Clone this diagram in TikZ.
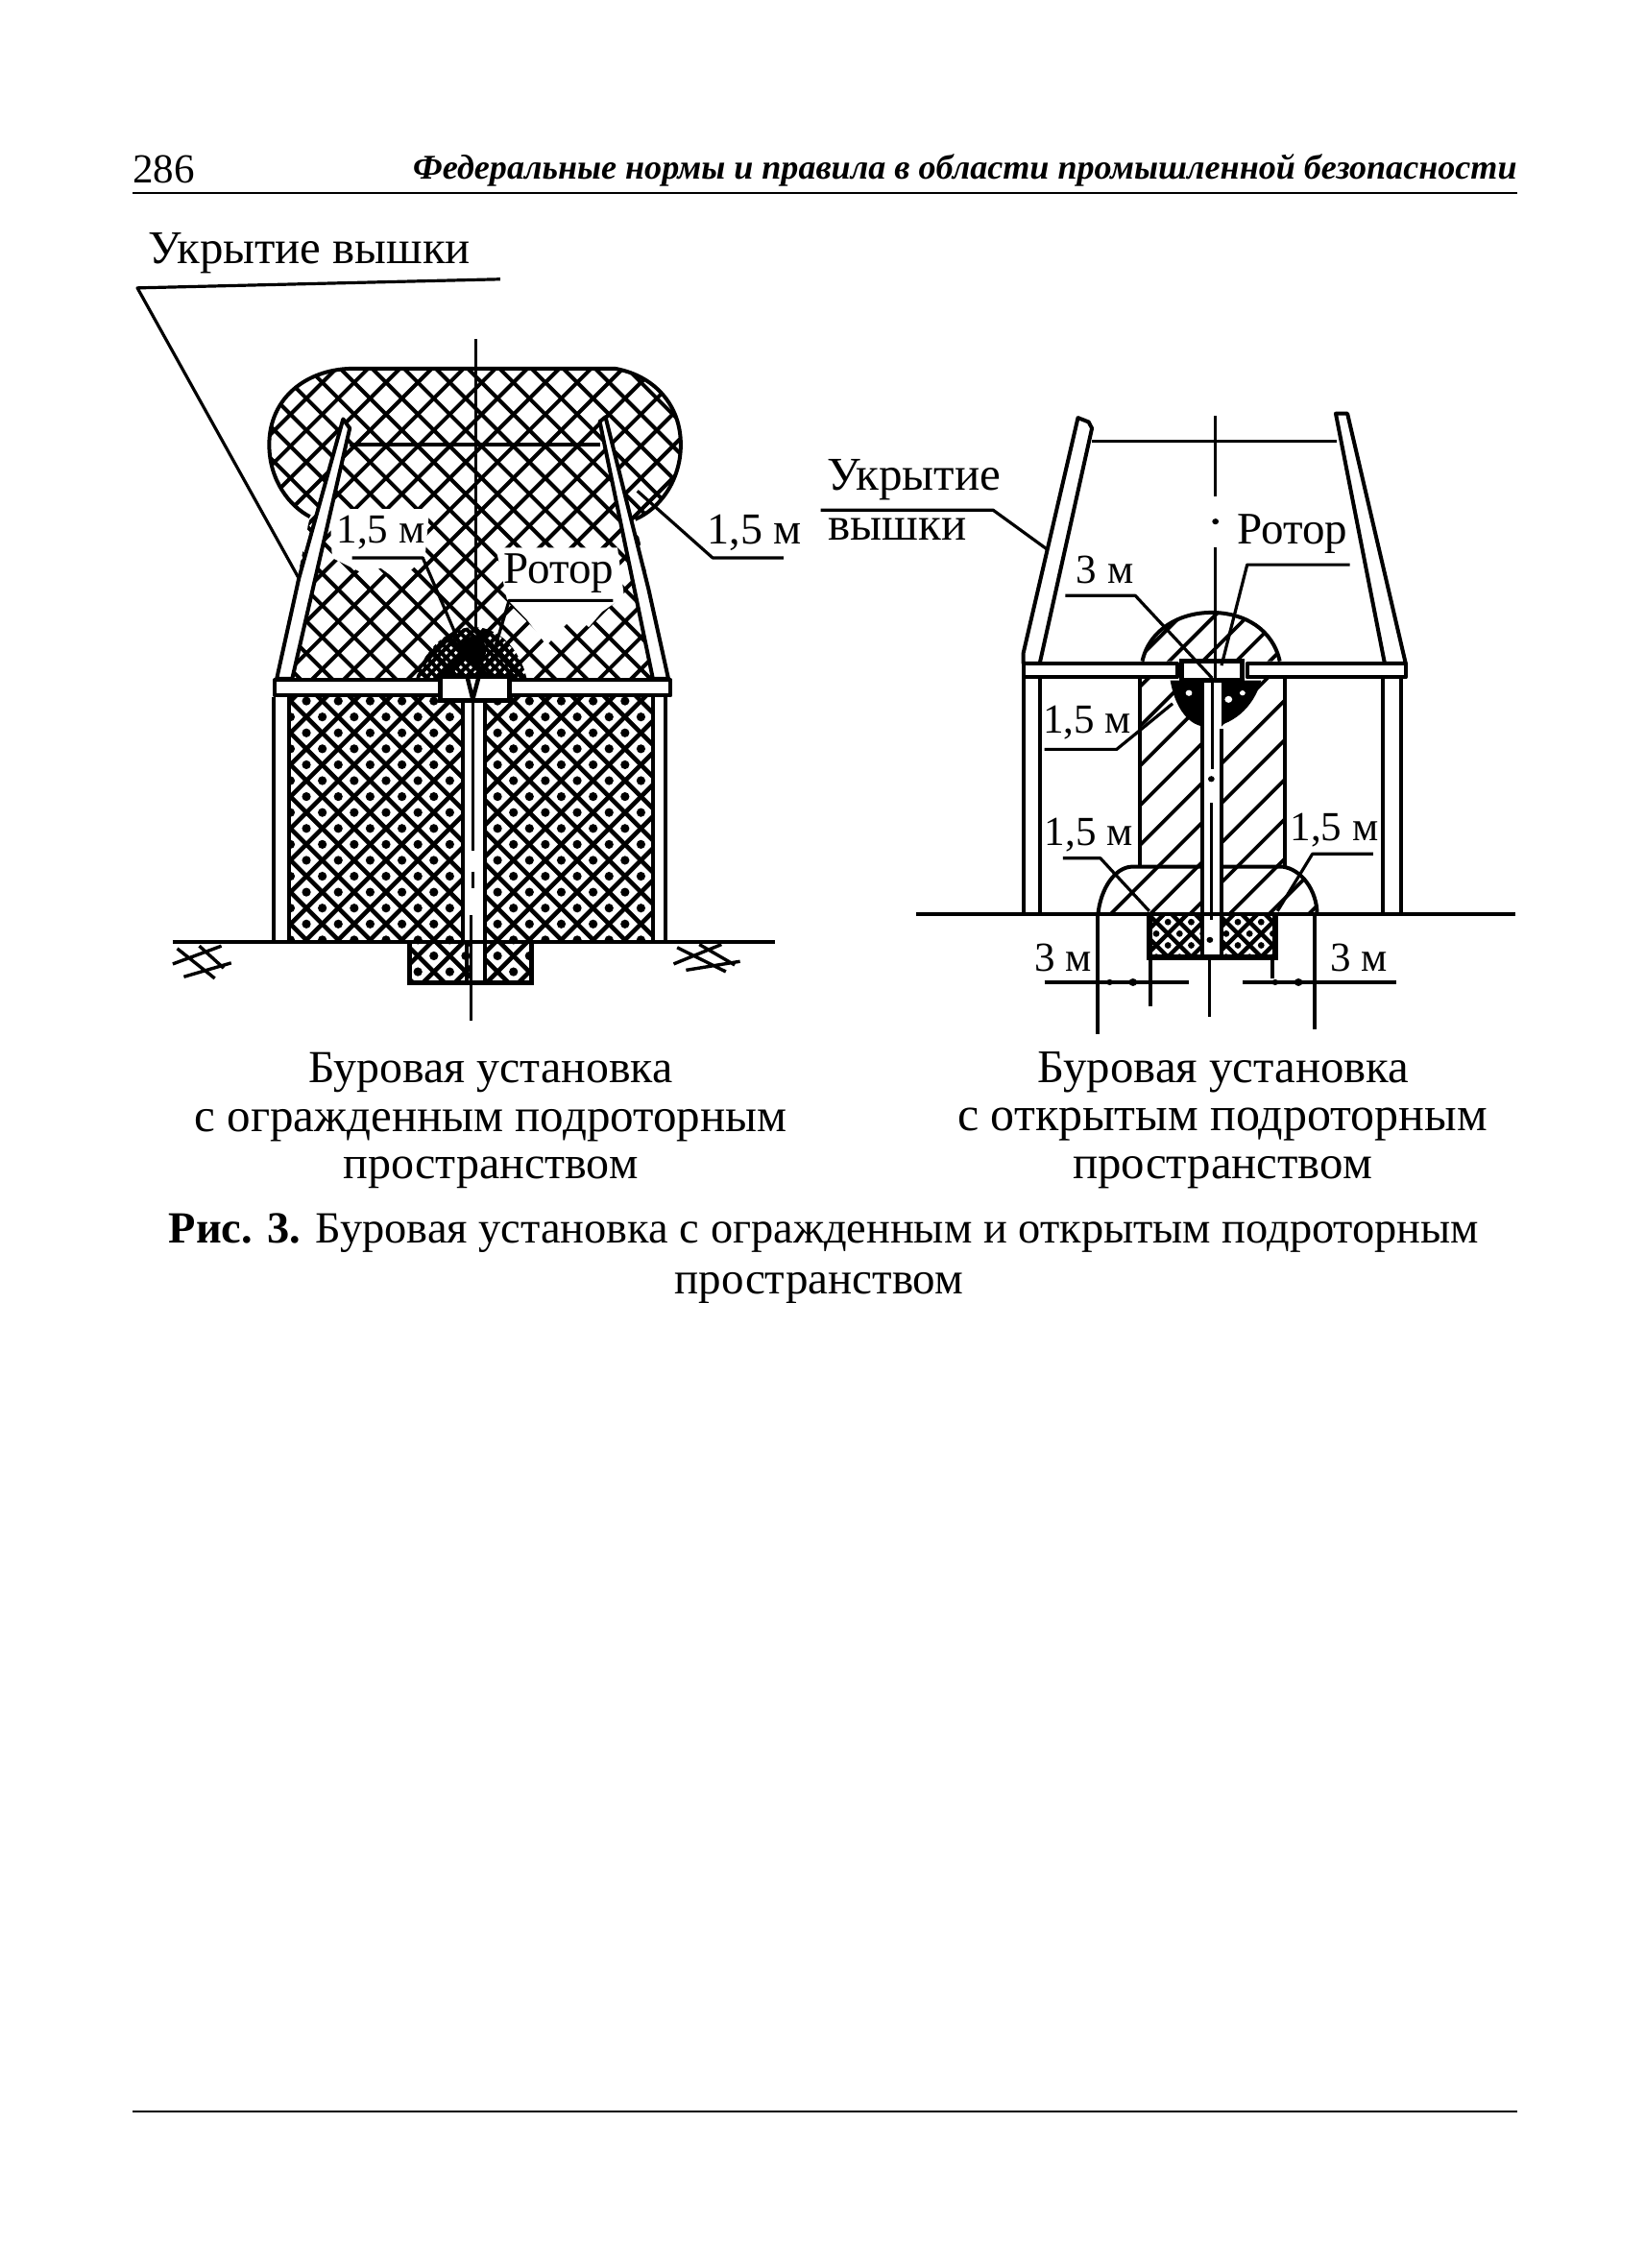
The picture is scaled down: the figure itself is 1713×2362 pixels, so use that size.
\documentclass[tikz,border=0pt]{standalone}
\usepackage{fontspec}
\setmainfont{Liberation Serif}
\newcommand\crossgrid[1]{%
  \foreach \k in {-45,...,45}{\draw (\k*#1,0) -- ({\k*#1+2400},2400);}%
  \foreach \k in {0,...,90}{\draw (\k*#1,0) -- ({\k*#1-2400},2400);}%
}
\newcommand\diaggrid[1]{%
  \foreach \k in {0,...,40}{\draw (\k*#1,0) -- ({\k*#1-2400},2400);}%
}
\newcommand\dotsize{10}
\newcommand\dotgrid[5]{%
  \foreach \i in {#2,...,#3}{\foreach \j in {#4,...,#5}{%
    \fill ({(\i+0.5)*#1},{\j*#1}) circle[radius=\dotsize];
    \fill ({\i*#1},{(\j+0.5)*#1}) circle[radius=\dotsize];}}%
}
\newcommand\fs[1]{\fontsize{#1}{#1}\selectfont}
\tikzset{
  lab/.style={font=\fontsize{21.5}{24}\selectfont,inner sep=0pt},
  big/.style={font=\fontsize{23.5}{26}\selectfont,inner sep=0pt,anchor=base},
  lead/.style={line width=1.6pt,line join=round},
  wall/.style={line width=2pt,line join=round},
  mesh/.style={line width=2pt},
  finemesh/.style={line width=2.3pt},
  diag/.style={line width=1.9pt},
  thin axis/.style={line width=1.5pt},
  figA/.style={shift={(120,249)},x=0.2304pt,y=-0.2677pt},
  figB/.style={shift={(840,402)},x=0.2427pt,y=-0.2205pt},
  isoA/.style={x=0.2304pt,y=-0.2304pt},
  isoB/.style={x=0.2427pt,y=-0.2427pt}
}
\begin{document}
\begin{tikzpicture}[x=0.5pt,y=-0.5pt]
\useasboundingbox (0,0) rectangle (1713,2362);
\fill[white] (0,0) rectangle (1713,2362);
% ---- page furniture
\node[big,anchor=base west,font=\fs{21.5}] (pg) at (138,190) {286};
\node[big,anchor=base east,font=\fontsize{18.05}{22}\bfseries\itshape\selectfont] (hd) at (1580,186) {Федеральные нормы и правила в области промышленной безопасности};
\coordinate (ra) at (138,201); \coordinate (rb) at (1580,201);
\draw[line width=1pt] (ra) -- (rb);
\coordinate (fa) at (138,2199); \coordinate (fb) at (1580,2199);
\draw[line width=1pt] (fa) -- (fb);
% ---- captions
\node[big,font=\fs{23.9}] (c1) at (511,1127) {Буровая установка};
\node[big,font=\fs{24.5}] (c2) at (511,1178) {с огражденным подроторным};
\node[big,font=\fs{24}] (c3) at (511,1227) {пространством};
\node[big,font=\fs{24.4}] (d1) at (1274,1127) {Буровая установка};
\node[big,font=\fs{25}] (d2) at (1273,1177) {с открытым подроторным};
\node[big,font=\fs{24.4}] (d3) at (1273,1227) {пространством};
\node[big,font=\fs{23.2}] (e1) at (858,1294) {{\bfseries Рис. 3.} Буровая установка с огражденным и открытым подроторным};
\node[big] (e2) at (853,1347) {пространством};
\node[big,font=\fs{24.4}] (t1) at (322,274) {Укрытие вышки};
% ================= LEFT FIGURE
\begin{scope}[figA]
  % upper hatched zone
  \begin{scope}
    \clip (530,252) -- (1130,252) .. controls (1215,265) and (1278,320) .. (1278,400)
      .. controls (1278,470) and (1230,525) .. (1175,545) -- (1250,855) -- (365,855)
      -- (440,540) .. controls (395,520) and (348,470) .. (348,400)
      .. controls (348,310) and (430,255) .. (530,252) -- cycle;
    \begin{scope}[mesh,isoA]\crossgrid{72}\end{scope}
  \end{scope}
  \draw[wall] (440,540) .. controls (395,520) and (348,470) .. (348,400)
      .. controls (348,310) and (430,255) .. (530,252) -- (1130,252)
      .. controls (1215,265) and (1278,320) .. (1278,400)
      .. controls (1278,470) and (1230,525) .. (1175,545);
  % cleared zones around the labels
  \fill[white] (485,525) -- (710,525) -- (700,620) -- (640,665) -- (600,640) -- (560,650) -- (490,620) -- cycle;
  \fill[white] (860,600) -- (1135,600) -- (1150,695) -- (1100,725) -- (1070,755) -- (1040,730) -- (975,790) -- (930,740) -- (885,700) -- cycle;
  % top bar
  \draw[wall] (530,400) -- (1095,400);
  % struts
  \draw[wall,fill=white] (515,350) -- (415,660) -- (365,855) -- (400,855) -- (530,368) -- cycle;
  \draw[wall,fill=white] (1108,346) -- (1205,680) -- (1250,855) -- (1215,855) -- (1095,355) -- cycle;
  % lower hatched rooms
  \begin{scope}
    \clip (395,890) rectangle (785,1366);
    \begin{scope}[finemesh,isoA]\crossgrid{72}\dotgrid{72}{5}{11}{14}{22}\end{scope}
  \end{scope}
  \begin{scope}
    \clip (835,890) rectangle (1215,1366);
    \begin{scope}[finemesh,isoA]\crossgrid{72}\dotgrid{72}{11}{17}{14}{22}\end{scope}
  \end{scope}
  \draw[wall] (358,890) -- (358,1368);
  \draw[wall] (393,890) -- (393,1368);
  \draw[wall] (1215,890) -- (1215,1368);
  \draw[wall] (1243,890) -- (1243,1368);
  \draw[wall] (785,890) -- (785,1368);
  \draw[wall] (835,890) -- (835,1368);
  % black hemisphere
  \begin{scope}
    \clip (680,855) .. controls (700,790) and (760,755) .. (810,755) .. controls (870,755) and (915,800) .. (930,855) -- cycle;
    \begin{scope}[line width=2pt,isoA]\crossgrid{22}\end{scope}
    \fill (810,800) circle[radius=28];
  \end{scope}
  % beam and rotor box
  \draw[wall,fill=white] (360,858) rectangle (1255,888);
  \draw[line width=2.4pt,fill=white] (735,850) rectangle (890,897);
  % pit
  \begin{scope}
    \clip (665,1370) rectangle (940,1447);
    \begin{scope}[finemesh,isoA]\crossgrid{72}\dotgrid{72}{9}{13}{21}{25}\end{scope}
    \fill[white] (800,1370) rectangle (835,1447);
  \end{scope}
  \draw[line width=2.6pt] (665,1370) -- (665,1447) -- (940,1447) -- (940,1370);
  \draw[wall] (795,1370) -- (795,1447) (835,1370) -- (835,1447);
  % ground
  \coordinate (ga) at (130,1368); \coordinate (gb) at (1490,1368);
  \draw[wall] (ga) -- (gb);
  \draw[line width=1.7pt] (130,1410) -- (240,1375) (155,1435) -- (262,1408) (140,1380) -- (225,1438) (190,1375) -- (245,1418);
  \draw[line width=1.7pt] (1262,1410) -- (1370,1372) (1290,1422) -- (1412,1405) (1270,1378) -- (1380,1425) (1320,1372) -- (1400,1412);
  % axis
  \coordinate (aa) at (815,195); \coordinate (ab) at (815,760);
  \draw[thin axis] (aa) -- (ab);
  \draw[thin axis] (808,900) -- (808,1190) (808,1230) -- (808,1262) (805,1315) -- (805,1520);
  \draw[line width=2.2pt] (795,850) -- (808,895) -- (822,850);
  % leaders
  \coordinate (u0) at (870,78); \coordinate (u1) at (50,95); \coordinate (u2) at (415,660);
  \draw[lead] (u0) -- (u1) -- (u2);
  \node[lab] (a15l) at (600,570) {1,5 м};
  \coordinate (al0) at (535,620); \coordinate (al1) at (695,620); \coordinate (al2) at (785,800);
  \draw[lead] (al0) -- (al1) -- (al2);
  \node[lab,font=\fs{23}] (a15r) at (1445,572) {1,5 м};
  \coordinate (ar0) at (1510,620); \coordinate (ar1) at (1350,620); \coordinate (ar2) at (1180,490);
  \draw[lead] (ar0) -- (ar1) -- (ar2);
  \node[lab,font=\fs{23.5}] (arot) at (1002,650) {Ротор};
  \coordinate (ao0) at (1125,703); \coordinate (ao1) at (890,703); \coordinate (ao2) at (860,790);
  \draw[lead] (ao0) -- (ao1) -- (ao2);
\end{scope}
% ================= RIGHT FIGURE
\begin{scope}[figB]
  % column, dome and mound hatching
  \begin{scope}
    \clip (720,650) .. controls (735,575) and (800,535) .. (868,535) .. controls (940,535) and (1000,575) .. (1015,650) -- cycle;
    \begin{scope}[diag,isoB]\diaggrid{72}\end{scope}
  \end{scope}
  \draw[wall] (720,650) .. controls (735,575) and (800,535) .. (868,535) .. controls (940,535) and (1000,575) .. (1015,650);
  \begin{scope}
    \clip (715,690) rectangle (1025,1135);
    \begin{scope}[diag,isoB]\diaggrid{85}\end{scope}
  \end{scope}
  \begin{scope}
    \clip (625,1248) .. controls (630,1190) and (660,1135) .. (700,1135) -- (1020,1135) .. controls (1060,1140) and (1095,1190) .. (1095,1248) -- cycle;
    \begin{scope}[diag,isoB]\diaggrid{85}\end{scope}
  \end{scope}
  \draw[wall] (625,1248) .. controls (630,1190) and (660,1135) .. (700,1135) -- (1020,1135) .. controls (1060,1140) and (1095,1190) .. (1095,1248);
  \draw[wall] (715,690) -- (715,1135) (1025,690) -- (1025,1135);
  % black bulb
  \fill (780,695) .. controls (790,760) and (820,805) .. (860,805) .. controls (910,805) and (960,760) .. (975,695) -- cycle;
  \fill[white] (820,725) circle[radius=7] (905,740) circle[radius=8] (935,725) circle[radius=6];
  % pipe
  \fill[white] (848,695) rectangle (890,1350);
  \draw[wall] (848,695) -- (848,1350) (890,810) -- (890,1350);
  % pit
  \renewcommand\dotsize{7}
  \begin{scope}
    \clip (735,1250) rectangle (848,1350);
    \begin{scope}[line width=2.2pt,isoB]\crossgrid{50}\dotgrid{50}{14}{17}{22}{25}\end{scope}
  \end{scope}
  \begin{scope}
    \clip (890,1250) rectangle (1005,1350);
    \begin{scope}[line width=2.2pt,isoB]\crossgrid{50}\dotgrid{50}{17}{20}{22}{25}\end{scope}
  \end{scope}
  \draw[line width=3pt] (735,1250) -- (735,1350) -- (1005,1350) -- (1005,1250);
  % struts
  \draw[wall,fill=white] (582,75) -- (465,630) -- (465,655) -- (500,655) -- (612,100) -- (605,85) -- cycle;
  \draw[wall,fill=white] (1135,65) -- (1240,655) -- (1285,655) -- (1160,65) -- cycle;
  \draw[lead] (612,130) -- (1138,130);
  % walls, beam, rotor box
  \draw[wall] (465,690) -- (465,1248) (500,690) -- (500,1248) (1235,690) -- (1235,1248) (1275,690) -- (1275,1248);
  \draw[wall,fill=white] (465,655) rectangle (795,688);
  \draw[wall,fill=white] (945,655) rectangle (1285,688);
  \draw[line width=2.4pt,fill=white] (805,650) rectangle (935,695);
  % ground
  \coordinate (hg0) at (235,1248); \coordinate (hg1) at (1520,1248);
  \draw[wall] (hg0) -- (hg1);
  % axis
  \coordinate (ax0) at (877,70); \coordinate (ax1) at (877,260);
  \draw[thin axis] (ax0) -- (ax1);
  \draw[thin axis] (877,380) -- (877,690);
  \fill (877,320) circle[radius=7];
  \draw[thin axis] (870,700) -- (870,905) (868,985) -- (868,1260) (865,1350) -- (865,1490);
  \fill (868,928) circle[radius=7] (865,1308) circle[radius=7];
  % dimension lines
  \draw[wall] (625,1248) -- (625,1530) (738,1350) -- (738,1465) (1000,1350) -- (1000,1400) (1090,1248) -- (1090,1520);
  \draw[wall] (510,1408) -- (820,1408) (935,1408) -- (1265,1408);
  \fill (650,1408) circle[radius=7] (700,1408) circle[radius=9] (1005,1408) circle[radius=7] (1055,1408) circle[radius=9];
  % labels and leaders
  \node[big,anchor=center,font=\fs{24.5}] (bu1) at (230,222) {Укрытие};
  \node[big,anchor=center,font=\fs{24.5}] (bu2) at (195,338) {вышки};
  \coordinate (bl0) at (30,293); \coordinate (bl1) at (400,293); \coordinate (bl2) at (515,385);
  \draw[lead] (bl0) -- (bl1) -- (bl2);
  \node[lab] (b3) at (640,435) {3 м};
  \coordinate (b30) at (555,495); \coordinate (b31) at (705,495); \coordinate (b32) at (870,690);
  \draw[lead] (b30) -- (b31) -- (b32);
  \node[big,anchor=center] (brot) at (1042,350) {Ротор};
  \coordinate (br0) at (1165,422); \coordinate (br1) at (945,422); \coordinate (br2) at (890,660);
  \draw[lead] (br0) -- (br1) -- (br2);
  \node[lab] (b1) at (602,795) {1,5 м};
  \coordinate (c10) at (510,858); \coordinate (c11) at (665,858); \coordinate (c12) at (785,750);
  \draw[lead] (c10) -- (c11) -- (c12);
  \node[lab] (b2) at (605,1060) {1,5 м};
  \coordinate (c20) at (550,1115); \coordinate (c21) at (630,1115); \coordinate (c22) at (735,1240);
  \draw[lead] (c20) -- (c21) -- (c22);
  \node[lab] (b4) at (1132,1050) {1,5 м};
  \coordinate (c30) at (1215,1105); \coordinate (c31) at (1085,1105); \coordinate (c32) at (1010,1240);
  \draw[lead] (c30) -- (c31) -- (c32);
  \node[lab] (b5) at (550,1350) {3 м};
  \node[lab] (b6) at (1185,1350) {3 м};
\end{scope}
\end{tikzpicture}
\end{document}
